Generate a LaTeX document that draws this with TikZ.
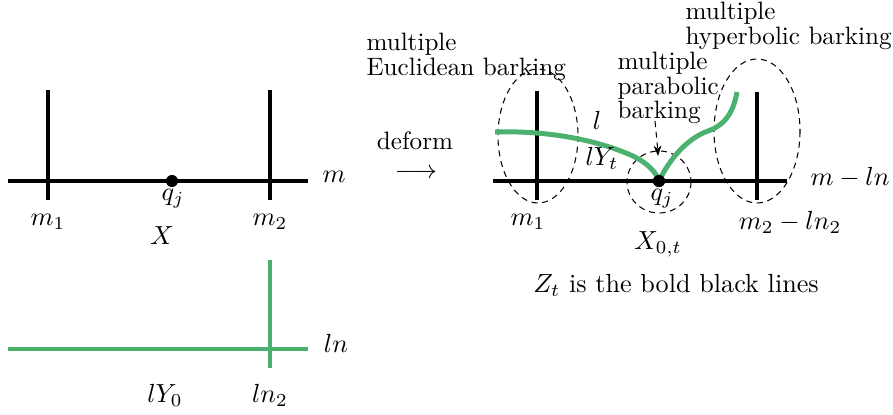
\documentclass[tikz,border=0pt]{standalone}
\usetikzlibrary{arrows.meta}
\definecolor{grn}{RGB}{76,176,110}
\begin{document}
\begin{tikzpicture}[x=0.382pt,y=-0.382pt,
  bold/.style={line width=1.7pt,black},
  gbold/.style={line width=1.9pt,grn},
  lbl/.style={inner sep=0pt},
  multi/.style={inner sep=0pt,align=left,anchor=west,font={\fontsize{9.6}{9.4}\selectfont}},
  ring/.style={line width=0.4pt,dash pattern=on 2.3pt off 1.8pt},
  dot/.style={circle,fill=black,inner sep=0pt,minimum size=4.6pt}]
\useasboundingbox (0,0) rectangle (893,414);
% ---------- left: X ----------
\coordinate (xl) at (8,181); \coordinate (xr) at (308,181);
\coordinate (a1) at (48,90); \coordinate (a2) at (48,200);
\coordinate (b1) at (270,90); \coordinate (b2) at (270,200);
\draw[bold] (xl) -- (xr);
\draw[bold] (a1) -- (a2);
\draw[bold] (b1) -- (b2);
\node[dot] (qL) at (172,181) {};
\node[lbl] (qLl) at (173,199) {$q_j$};
\node[lbl] (mL) at (334,177) {$m$};
\node[lbl] (m1L) at (48,222) {$m_1$};
\node[lbl] (m2L) at (270,222) {$m_2$};
\node[lbl] (XL) at (162,236) {$X$};
% ---------- left: lY0 ----------
\coordinate (yl) at (8,349); \coordinate (yr) at (308,349);
\coordinate (c1) at (270,260); \coordinate (c2) at (270,368);
\draw[gbold] (yl) -- (yr);
\draw[gbold] (c1) -- (c2);
\node[lbl] (lnL) at (336,343) {$ln$};
\node[lbl] (lY0) at (165,395) {$lY_0$};
\node[lbl] (ln2) at (270,395) {$ln_2$};
% ---------- middle ----------
\node[lbl,font={\fontsize{9.6}{11}\selectfont}] (deform) at (415,141) {deform};
\node[lbl] (arr) at (416,174) {$\longrightarrow$};
% ---------- right ----------
\coordinate (zl) at (493,181); \coordinate (zr) at (787,181);
\coordinate (d1) at (537,91); \coordinate (d2) at (537,200);
\coordinate (e1) at (757,92); \coordinate (e2) at (757,200);
\draw[ring] (538,136) ellipse [x radius=40, y radius=67];
\draw[ring] (757,131) ellipse [x radius=43, y radius=72];
\draw[ring] (659,182) ellipse [x radius=32, y radius=31];
\draw[bold] (zl) -- (zr);
\draw[bold] (d1) -- (d2);
\draw[bold] (e1) -- (e2);
\coordinate (gs) at (495,132);
\coordinate (ge) at (737,92);
\node[dot] (qR) at (659,181) {};
\draw[gbold] (gs) .. controls (560,130) and (610,145) .. (635,157)
  .. controls (648,164) and (656,172) .. (qR.center)
  .. controls (670,158) and (688,138) .. (708,131)
  .. controls (728,124) and (734,108) .. (ge);
\node[dot] at (qR.center) {};
\node[lbl] (qRl) at (662,199) {$q_j$};
\node[lbl] (lab) at (597,120) {$l$};
\node[lbl] (lYt) at (602,158) {$lY_t$};
\node[lbl] (mln) at (850,177) {$m-ln$};
\node[lbl] (m1R) at (528,222) {$m_1$};
\node[lbl] (m2R) at (790,222) {$m_2-ln_2$};
\node[lbl] (X0t) at (658,244) {$X_{0,t}$};
\node[lbl] (Zt) at (676,285) {$Z_t$ is the bold black lines};
\node[multi] (euc) at (366,57) {multiple\\Euclidean barking};
\node[multi] (hyp) at (685,26) {multiple\\hyperbolic barking};
\node[multi] (par) at (617,88) {multiple\\parabolic\\barking};
\coordinate (pa) at (655,121);
\coordinate (pb) at (658,156);
\draw[ring,-{Stealth[length=4pt,width=3pt]}] (pa) .. controls (657,135) .. (pb);
\end{tikzpicture}
\end{document}
